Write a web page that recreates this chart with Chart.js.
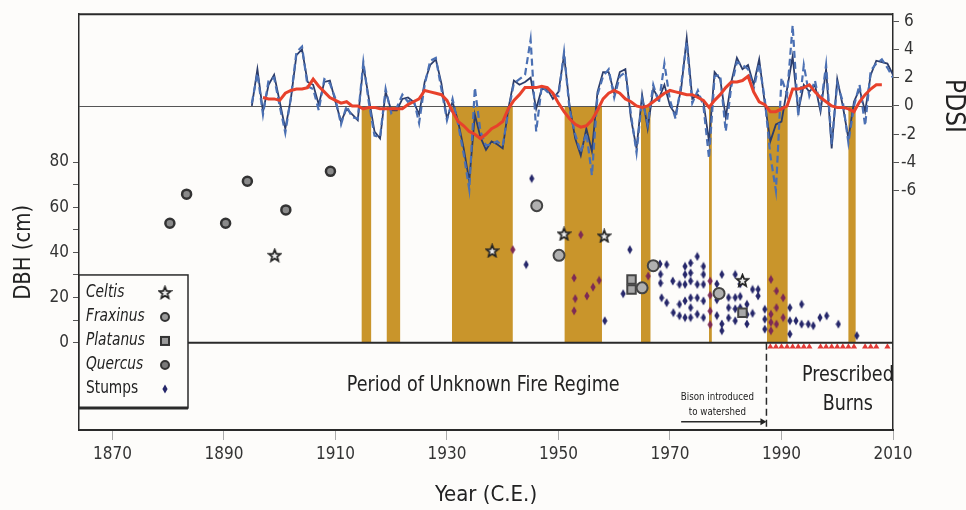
<!DOCTYPE html>
<html>
<head>
<meta charset="utf-8">
<script src="https://cdn.jsdelivr.net/npm/chart.js@4"></script>
<style>
  html, body { margin: 0; padding: 0; background: #fdfcfa; }
  #wrap { width: 966px; height: 510px; }
</style>
</head>
<body>
<div id="wrap"><canvas id="dbhChart" width="966" height="510"></canvas></div>
<script>
// tick labels
const yearTicks = [1870, 1890, 1910, 1930, 1950, 1970, 1990, 2010];
const dbhTicks = [0, 10, 20, 30, 40, 50, 60, 70, 80];
const pdsiTicks = [-6, -4, -2, 0, 2, 4, 6];

// PDSI, one value per year
const pdsiStart = 1895;
const pdsiSolid = [
  0.0, 2.6, -0.4, 1.5, 2.2, 0.3, -1.6, 0.5, 3.6, 4.0,
  1.7, 1.5, 0.1, 1.7, 1.8, 0.3, -1.1, -0.2, -0.6, -1.0,
  2.9, 0.5, -1.8, -2.3, 1.0, -0.3, -0.3, 0.5, 0.6, 0.3,
  -0.6, 1.7, 2.9, 3.3, 1.6, -0.9, 0.3, -1.1, -3.0, -5.3,
  -0.6, -2.2, -3.1, -2.5, -2.7, -3.0, -0.2, 1.8, 1.5, 1.7,
  2.0, -0.2, 1.2, 1.2, 0.5, 1.0, 3.6, 0.0, -2.3, -3.5,
  -1.6, -3.2, 1.0, 2.4, 2.4, 0.9, 2.4, 2.6, -0.9, -3.0,
  0.8, -1.6, 1.2, 0.5, 1.5, 0.0, -0.6, 1.2, 4.8, 0.5,
  0.8, 0.3, -2.5, 2.4, 1.9, -0.8, 1.7, 3.4, 2.6, 2.9,
  1.5, 3.3, 0.2, -2.5, -1.3, -1.1, 1.2, 3.5, -0.4, 1.5,
  1.0, 1.5, -0.4, 2.6, -3.0, 1.9, 0.0, -2.3, 0.3, 1.2,
  -0.4, 2.2, 3.2, 3.1, 3.0, 2.2
];
const pdsiDashed = [
  0.2, 2.3, -0.6, 1.8, 2.0, 0.0, -1.9, 0.6, 3.8, 4.2,
  1.4, 1.2, -0.3, 1.9, 1.6, 0.5, -1.3, 0.0, -0.8, -0.9,
  3.1, 0.2, -2.1, -2.2, 1.2, -0.5, -0.1, 0.8, 0.3, 0.5,
  -1.2, 1.5, 3.2, 3.4, 1.2, -1.0, 0.5, -1.3, -3.4, -5.9,
  1.3, -1.8, -2.8, -2.7, -2.5, -2.8, -0.4, 1.6, 1.9, 2.2,
  4.7, -1.8, 1.4, 1.0, 0.8, 0.7, 3.8, -0.3, -2.0, -3.3,
  -1.9, -4.9, 0.8, 2.1, 2.6, 0.6, 2.1, 2.4, -0.6, -3.3,
  0.5, -1.3, 1.5, 0.2, 3.0, 0.4, -0.9, 1.5, 4.5, 0.2,
  1.1, 0.0, -3.7, 2.1, 2.2, -1.8, 1.4, 3.1, 2.9, 2.6,
  1.2, 3.0, 0.5, -3.5, -6.0, 2.0, 0.8, 5.7, -0.7, 2.9,
  0.7, 1.8, -0.1, 2.9, -2.7, 1.6, 0.3, -2.6, 0.0, 1.5,
  -1.4, 2.5, 3.0, 3.3, 2.7, 2.0
];
const smoothStart = 1897;
const pdsiSmooth = [
  0.6, 0.5, 0.5, 0.4, 0.9, 1.1, 1.2, 1.2, 1.3, 1.9,
  1.4, 1.0, 0.6, 0.4, 0.2, 0.3, 0.0, 0.0, -0.2, -0.1,
  -0.1, -0.2, -0.2, -0.2, -0.2, -0.2, 0.1, 0.3, 0.5, 1.1,
  1.0, 0.9, 0.8, 0.4, -0.4, -1.1, -1.4, -1.8, -2.0, -2.3,
  -2.0, -1.6, -1.4, -1.1, -0.2, 0.4, 0.8, 1.3, 1.3, 1.3,
  1.4, 1.3, 0.9, 0.2, -0.4, -0.9, -1.3, -1.5, -1.4, -1.0,
  -0.3, 0.5, 0.9, 1.1, 0.9, 0.5, 0.3, 0.0, -0.1, 0.0,
  0.3, 0.6, 0.9, 1.1, 1.0, 0.9, 0.8, 0.8, 0.6, 0.4,
  -0.1, 0.4, 0.8, 1.3, 1.7, 1.7, 1.8, 2.1, 1.0, 0.3,
  0.1, -0.4, -0.4, -0.2, 0.0, 1.2, 1.2, 1.3, 1.5, 1.0,
  0.6, 0.3, 0.0, -0.1, -0.1, -0.2, -0.4, 0.3, 0.8, 1.2,
  1.5, 1.5
];

// drought periods (start year, end year)
const droughts = [
  [1914.7, 1916.4], [1919.2, 1921.6], [1930.9, 1941.8], [1951.1, 1957.8],
  [1964.8, 1966.5], [1977.0, 1977.5], [1987.4, 1991.1], [2002.0, 2003.3]
];

// establishment year, DBH (cm)
const celtis = [[1899.1, 38.7], [1938.1, 40.7], [1951.0, 48.2], [1958.2, 47.3], [1983.0, 27.6]];
const fraxinus = [[1946.1, 60.7], [1950.1, 38.7], [1965.0, 24.3], [1967.0, 34.1], [1978.8, 21.8]];
const platanus = [[1963.1, 28.0], [1963.1, 23.6], [1983.0, 13.3]];
const quercus = [[1880.3, 52.9], [1883.3, 65.8], [1890.3, 52.9], [1894.2, 71.5], [1901.1, 58.8], [1909.1, 75.9]];
const stumps = [
  [1941.8, 41.2], [1944.2, 34.6], [1945.2, 72.7],
  [1952.8, 28.7], [1953.0, 19.5], [1952.8, 14.1], [1954.0, 47.8], [1955.1, 20.7], [1956.2, 24.6], [1957.3, 27.6], [1958.3, 9.7],
  [1961.6, 21.7], [1962.8, 41.2], [1966.1, 29.5],
  [1968.2, 34.9], [1968.3, 30.3], [1968.3, 26.4], [1968.5, 19.9],
  [1969.4, 34.6], [1969.4, 17.7],
  [1970.5, 27.3], [1970.6, 13.3],
  [1971.7, 25.8], [1971.7, 17.0], [1971.7, 11.9],
  [1972.7, 33.8], [1972.7, 30.2], [1972.7, 25.8], [1972.7, 18.5], [1972.7, 11.1],
  [1973.7, 35.3], [1973.7, 30.9], [1973.7, 27.3], [1973.7, 19.9], [1973.7, 15.5], [1973.7, 11.1],
  [1974.9, 38.2], [1974.9, 25.8], [1974.9, 19.9], [1974.9, 12.6],
  [1976.0, 33.8], [1976.0, 30.2], [1976.0, 25.8], [1976.0, 18.5], [1976.0, 11.1],
  [1977.2, 27.3], [1977.2, 21.0], [1977.2, 14.0], [1977.2, 8.0],
  [1978.4, 26.0], [1978.4, 19.0], [1978.4, 12.0],
  [1979.3, 30.2], [1979.3, 8.3], [1979.3, 5.3],
  [1980.5, 20.0], [1980.5, 15.5], [1980.5, 11.0],
  [1981.7, 30.2], [1981.7, 20.0], [1981.7, 15.0], [1981.7, 9.7],
  [1982.6, 26.0], [1982.6, 20.5], [1982.6, 15.5],
  [1983.8, 17.0], [1983.8, 12.5], [1983.8, 8.3],
  [1984.8, 23.6], [1984.8, 13.0],
  [1985.8, 23.6], [1985.8, 20.7],
  [1987.0, 14.8], [1987.0, 10.4], [1987.0, 6.0],
  [1988.1, 28.0], [1988.1, 12.6], [1988.1, 9.0], [1988.1, 5.3],
  [1989.1, 22.9], [1989.1, 15.5], [1989.1, 8.2],
  [1990.3, 19.9], [1990.3, 11.1],
  [1991.5, 15.5], [1991.5, 9.7], [1991.5, 3.8],
  [1992.6, 9.7], [1993.6, 17.0], [1993.6, 8.2], [1994.8, 8.2], [1995.7, 7.5],
  [1996.9, 11.1], [1998.1, 11.9], [2000.2, 8.2], [2003.5, 3.1]
];
const burnYears = [1988, 1989, 1990, 1991, 1992, 1993, 1994, 1995, 1997, 1998, 1999, 2000, 2001, 2002, 2003, 2005, 2006, 2007, 2009];
const burnMarkDbh = -1.8;
const bisonYear = 1987.3;

const FONT = "'DejaVu Sans Condensed', 'Liberation Sans', sans-serif";
const GOLD = "#c9952b";
const NAVY = "#2c3d6b";
const BG = "#fdfcfa";

Chart.defaults.font.family = FONT;
Chart.defaults.color = "#333";

const toXY = (pairs) => pairs.map(([x, y]) => ({ x: x, y: y }));
const series = (start, values) => values.map((v, i) => ({ x: start + i, y: v }));
const inDrought = (yr) => droughts.some(([a, b]) => yr >= a && yr <= b);

// custom point images
function makeCanvas(w, h, draw) {
  const c = document.createElement("canvas");
  c.width = w;
  c.height = h;
  draw(c.getContext("2d"));
  return c;
}
function starPath(ctx, cx, cy, ro, ri) {
  ctx.beginPath();
  for (let i = 0; i < 10; i++) {
    const r = i % 2 === 0 ? ro : ri;
    const a = -Math.PI / 2 + (i * Math.PI) / 5;
    const px = cx + r * Math.cos(a);
    const py = cy + r * Math.sin(a);
    if (i === 0) ctx.moveTo(px, py);
    else ctx.lineTo(px, py);
  }
  ctx.closePath();
}
const starImg = makeCanvas(15, 15, (ctx) => {
  starPath(ctx, 7.5, 8, 6.2, 2.7);
  ctx.fillStyle = "#ececec";
  ctx.fill();
  ctx.lineWidth = 1.7;
  ctx.strokeStyle = "#222";
  ctx.stroke();
});
function diamond(color) {
  return makeCanvas(6, 10, (ctx) => {
    ctx.beginPath();
    ctx.moveTo(3, 0.5);
    ctx.lineTo(5.6, 5);
    ctx.lineTo(3, 9.5);
    ctx.lineTo(0.4, 5);
    ctx.closePath();
    ctx.fillStyle = color;
    ctx.fill();
  });
}
const stumpNavy = diamond("#26276a");
const stumpRed = diamond("#7d2a55");

function drawText(ctx, str, x, y, font, align, sx) {
  ctx.save();
  ctx.translate(x, y);
  ctx.scale(sx || 1, 1);
  ctx.font = font;
  ctx.fillStyle = "#222";
  ctx.textAlign = align || "center";
  ctx.textBaseline = "middle";
  ctx.fillText(str, 0, 0);
  ctx.restore();
}

const decor = {
  id: "decor",
  beforeDraw(chart) {
    const ctx = chart.ctx;
    ctx.save();
    ctx.fillStyle = BG;
    ctx.fillRect(0, 0, chart.width, chart.height);
    ctx.restore();
  },
  beforeDatasetsDraw(chart) {
    const { ctx, chartArea, scales } = chart;
    const top = scales.y2.getPixelForValue(0);
    const bottom = scales.y.getPixelForValue(0);
    ctx.save();
    ctx.fillStyle = GOLD;
    droughts.forEach(([a, b]) => {
      const x1 = scales.x.getPixelForValue(a);
      const x2 = scales.x.getPixelForValue(b);
      ctx.fillRect(x1, top, x2 - x1, bottom - top);
    });
    // PDSI zero line
    ctx.strokeStyle = "#555";
    ctx.lineWidth = 1;
    ctx.beginPath();
    ctx.moveTo(chartArea.left, Math.round(top) + 0.5);
    ctx.lineTo(chartArea.right, Math.round(top) + 0.5);
    ctx.stroke();
    ctx.restore();
  },
  afterDatasetsDraw(chart) {
    const { ctx, chartArea, scales } = chart;
    const x = scales.x, y = scales.y, y2 = scales.y2;
    const zero = y.getPixelForValue(0);
    ctx.save();
    ctx.strokeStyle = "#2a2a2a";
    // DBH zero line and top frame
    ctx.lineWidth = 2;
    ctx.beginPath();
    ctx.moveTo(chartArea.left, zero);
    ctx.lineTo(chartArea.right, zero);
    ctx.moveTo(chartArea.left, chartArea.top);
    ctx.lineTo(chartArea.right, chartArea.top);
    ctx.stroke();

    // start of prescribed burns
    const bx = x.getPixelForValue(bisonYear);
    ctx.lineWidth = 1.5;
    ctx.setLineDash([7, 4]);
    ctx.beginPath();
    ctx.moveTo(bx, zero);
    ctx.lineTo(bx, chartArea.bottom);
    ctx.stroke();
    ctx.setLineDash([]);

    // annotations
    drawText(ctx, "Period of Unknown Fire Regime", x.getPixelForValue(1936.5), y.getPixelForValue(-19), "21px " + FONT, "center", 0.93);
    drawText(ctx, "Prescribed", x.getPixelForValue(2001.9), y.getPixelForValue(-14.5), "21px " + FONT, "center", 0.93);
    drawText(ctx, "Burns", x.getPixelForValue(2001.9), y.getPixelForValue(-27.5), "21px " + FONT, "center", 0.93);
    const bc = x.getPixelForValue(1978.5);
    drawText(ctx, "Bison introduced", bc, y.getPixelForValue(-24), "10.5px " + FONT, "center", 0.92);
    drawText(ctx, "to watershed", bc, y.getPixelForValue(-31), "10.5px " + FONT, "center", 0.92);
    const ay = y.getPixelForValue(-35);
    const ax1 = x.getPixelForValue(1972);
    ctx.lineWidth = 1.5;
    ctx.beginPath();
    ctx.moveTo(ax1, ay);
    ctx.lineTo(bx - 4, ay);
    ctx.stroke();
    ctx.fillStyle = "#222";
    ctx.beginPath();
    ctx.moveTo(bx, ay);
    ctx.lineTo(bx - 6, ay - 3.5);
    ctx.lineTo(bx - 6, ay + 3.5);
    ctx.closePath();
    ctx.fill();

    // legend box
    const lx = chartArea.left;
    const ly = y.getPixelForValue(30);
    const lw = 109, lh = 133;
    ctx.fillStyle = BG;
    ctx.fillRect(lx, ly, lw, lh);
    ctx.strokeStyle = "#2a2a2a";
    ctx.lineWidth = 1.5;
    ctx.strokeRect(lx, ly, lw, lh);
    ctx.lineWidth = 3;
    ctx.beginPath();
    ctx.moveTo(lx, ly + lh);
    ctx.lineTo(lx + lw, ly + lh);
    ctx.stroke();
    const rows = [
      { name: "Celtis", italic: true, mark: "star" },
      { name: "Fraxinus", italic: true, mark: "frax" },
      { name: "Platanus", italic: true, mark: "square" },
      { name: "Quercus", italic: true, mark: "quer" },
      { name: "Stumps", italic: false, mark: "stump" }
    ];
    rows.forEach((r, i) => {
      const ry = ly + 18 + i * 24;
      drawText(ctx, r.name, lx + 7, ry, (r.italic ? "italic " : "") + "17px " + FONT, "left", 0.9);
      const mx = lx + 86;
      ctx.lineWidth = 2;
      ctx.strokeStyle = "#333";
      if (r.mark === "star") {
        ctx.drawImage(starImg, mx - 7.5, ry - 8);
      } else if (r.mark === "frax" || r.mark === "quer") {
        ctx.beginPath();
        ctx.arc(mx, ry, 4, 0, Math.PI * 2);
        ctx.fillStyle = r.mark === "frax" ? "#9a9a9a" : "#7a7a7a";
        ctx.fill();
        ctx.stroke();
      } else if (r.mark === "square") {
        ctx.fillStyle = "#9a9a9a";
        ctx.fillRect(mx - 4, ry - 4, 8, 8);
        ctx.strokeRect(mx - 4, ry - 4, 8, 8);
      } else {
        ctx.drawImage(stumpNavy, mx - 3, ry - 5);
      }
    });

    // axis titles
    ctx.save();
    ctx.translate(24, y.getPixelForValue(40));
    ctx.rotate(-Math.PI / 2);
    drawText(ctx, "DBH (cm)", 0, 0, "23px " + FONT, "center", 0.95);
    ctx.restore();
    ctx.save();
    ctx.translate(953, y2.getPixelForValue(0));
    ctx.rotate(Math.PI / 2);
    drawText(ctx, "PDSI", 0, 0, "26px " + FONT, "center", 1);
    ctx.restore();
    ctx.restore();
  }
};

const ctx = document.getElementById("dbhChart").getContext("2d");
const chart = new Chart(ctx, {
  type: "scatter",
  data: {
    datasets: [
      {
        label: "Celtis",
        data: toXY(celtis),
        pointStyle: starImg,
        pointRadius: 7
      },
      {
        label: "Fraxinus",
        data: toXY(fraxinus),
        pointStyle: "circle",
        pointRadius: 5.5,
        pointBorderWidth: 2,
        pointBorderColor: "#444",
        pointBackgroundColor: "#b0b0b0"
      },
      {
        label: "Platanus",
        data: toXY(platanus),
        pointStyle: "rect",
        pointRadius: 6,
        pointBorderWidth: 2,
        pointBorderColor: "#444",
        pointBackgroundColor: "#a8a8a8"
      },
      {
        label: "Quercus",
        data: toXY(quercus),
        pointStyle: "circle",
        pointRadius: 4.5,
        pointBorderWidth: 2.5,
        pointBorderColor: "#333",
        pointBackgroundColor: "#8a8a8a"
      },
      {
        label: "Stumps",
        data: toXY(stumps),
        pointStyle: (c) => (c.raw && inDrought(c.raw.x) ? stumpRed : stumpNavy),
        pointRadius: 4
      },
      {
        label: "Burns",
        data: burnYears.map((yr) => ({ x: yr, y: burnMarkDbh })),
        pointStyle: "triangle",
        pointRadius: 3.6,
        pointBorderWidth: 0,
        pointBackgroundColor: "#e23a36"
      },
      {
        label: "PDSI smoothed",
        data: series(smoothStart, pdsiSmooth),
        yAxisID: "y2",
        showLine: true,
        borderColor: "#e8412b",
        borderWidth: 3,
        pointRadius: 0
      },
      {
        label: "PDSI (alt)",
        data: series(pdsiStart, pdsiDashed),
        yAxisID: "y2",
        showLine: true,
        borderColor: "#4b70b3",
        borderWidth: 2.2,
        borderDash: [7, 4],
        pointRadius: 0
      },
      {
        label: "PDSI",
        data: series(pdsiStart, pdsiSolid),
        yAxisID: "y2",
        showLine: true,
        borderColor: NAVY,
        borderWidth: 1.8,
        pointRadius: 0
      }
    ]
  },
  options: {
    responsive: false,
    animation: false,
    devicePixelRatio: 1,
    layout: { padding: { top: 11, left: 0, right: 0, bottom: 0 } },
    plugins: {
      legend: { display: false },
      tooltip: { enabled: false }
    },
    scales: {
      x: {
        type: "linear",
        min: 1864,
        max: 2010,
        afterBuildTicks: (s) => { s.ticks = yearTicks.map((v) => ({ value: v })); },
        afterFit: (s) => { s.height = 80; },
        ticks: {
          callback: (v) => String(v),
          font: { size: 17 },
          color: "#333",
          padding: 4,
          maxRotation: 0,
          autoSkip: false
        },
        grid: { drawOnChartArea: false, tickLength: 10, color: "#aaa" },
        border: { color: "#2a2a2a", width: 2 },
        title: {
          display: true,
          text: "Year (C.E.)",
          font: { size: 22 },
          color: "#222",
          padding: { top: 0, bottom: 2 }
        }
      },
      y: {
        position: "left",
        min: -38.68,
        max: 145.5,
        afterBuildTicks: (s) => { s.ticks = dbhTicks.map((v) => ({ value: v })); },
        afterFit: (s) => { s.width = 79; },
        ticks: {
          callback: (v) => (v % 20 === 0 ? String(v) : ""),
          font: { size: 17 },
          color: "#333",
          padding: 4
        },
        grid: { drawOnChartArea: false, tickLength: 6, color: "#555" },
        border: { color: "#2a2a2a", width: 1.5 }
      },
      y2: {
        position: "right",
        min: -22.91,
        max: 6.49,
        afterBuildTicks: (s) => { s.ticks = pdsiTicks.map((v) => ({ value: v })); },
        afterFit: (s) => { s.width = 73; },
        ticks: {
          callback: (v) => (v < 0 ? String(v) : "\u2009" + v),
          font: { size: 17 },
          color: "#333",
          padding: 2
        },
        grid: { drawOnChartArea: false, tickLength: 6, color: "#555" },
        border: { color: "#2a2a2a", width: 1.5 }
      }
    }
  },
  plugins: [decor]
});
</script>
</body>
</html>
